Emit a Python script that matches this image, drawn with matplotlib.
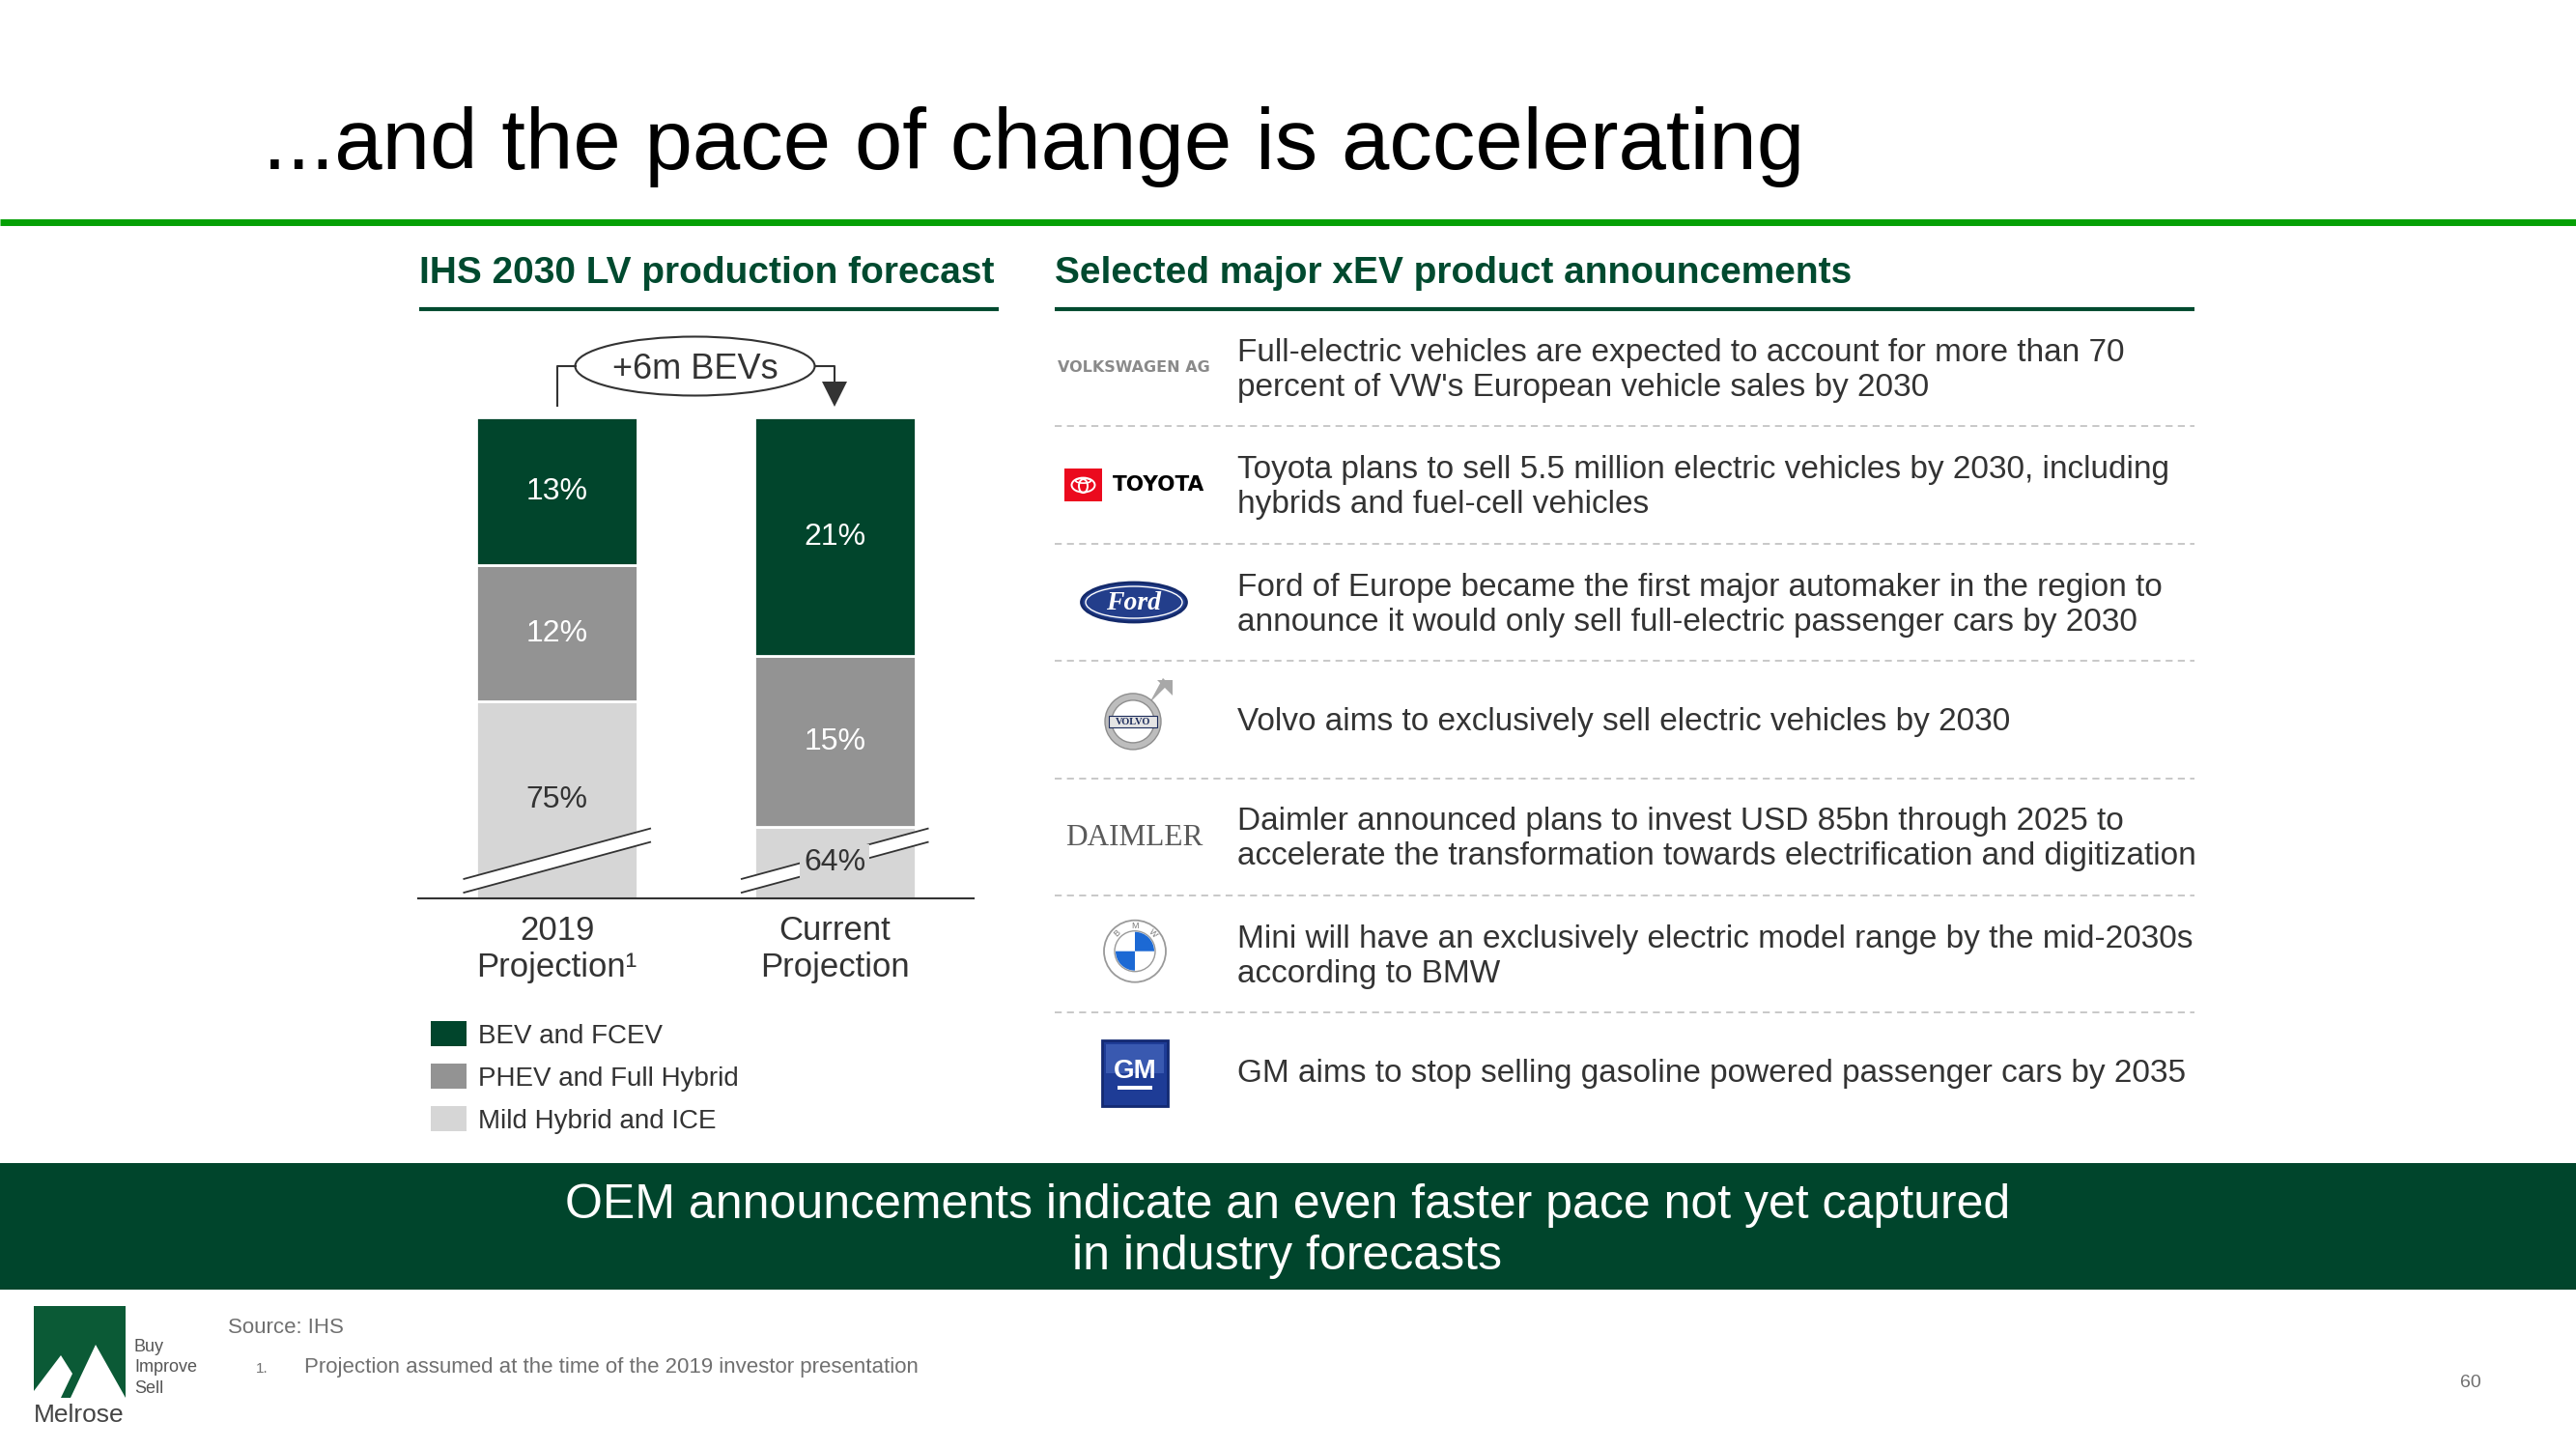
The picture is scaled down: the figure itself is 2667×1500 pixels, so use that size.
import numpy as np
import matplotlib
matplotlib.use("Agg")
import matplotlib.pyplot as plt
from matplotlib.patches import Rectangle, Ellipse, Circle, Polygon, Wedge

plt.rcParams['font.family'] = ['Liberation Sans', 'DejaVu Sans']

W, H = 2667, 1500
DARK_GREEN = '#00452C'
TEXT = '#333333'

# --- chart data ---
categories = ["2019\nProjection\u00b9", "Current\nProjection"]
series_names = ["BEV and FCEV", "PHEV and Full Hybrid", "Mild Hybrid and ICE"]
bev = [13, 21]
phev = [12, 15]
ice = [75, 64]
series_colors = ['#01452C', '#939393', '#D6D6D6']
label_colors = ['white', 'white', TEXT]
bev_delta = "+6m BEVs"

# broken axis: the visible stack is this many % tall, ICE gets truncated
BREAK_TOTAL = 42.3

oem_names = ["VOLKSWAGEN AG", "TOYOTA", "Ford", "VOLVO", "DAIMLER", "BMW", "GM"]
announcements = [
    "Full-electric vehicles are expected to account for more than 70\npercent of VW's European vehicle sales by 2030",
    "Toyota plans to sell 5.5 million electric vehicles by 2030, including\nhybrids and fuel-cell vehicles",
    "Ford of Europe became the first major automaker in the region to\nannounce it would only sell full-electric passenger cars by 2030",
    "Volvo aims to exclusively sell electric vehicles by 2030",
    "Daimler announced plans to invest USD 85bn through 2025 to\naccelerate the transformation towards electrification and digitization",
    "Mini will have an exclusively electric model range by the mid-2030s\naccording to BMW",
    "GM aims to stop selling gasoline powered passenger cars by 2035",
]

fig = plt.figure(figsize=(W / 100, H / 100), dpi=100)
fig.patch.set_facecolor('white')

# overlay axes in pixel coordinates (y down)
ov = fig.add_axes([0, 0, 1, 1])
ov.set_xlim(0, W)
ov.set_ylim(H, 0)
ov.axis('off')

# title + rule
ov.text(272, 175, "...and the pace of change is accelerating", fontsize=64,
        color='black', va='baseline', ha='left')
ov.plot([0, W], [230, 230], color='#05A005', lw=5, solid_capstyle='butt')

# section headers
ov.text(434, 293, "IHS 2030 LV production forecast", fontsize=28, fontweight='bold',
        color='#004A2F', va='baseline')
ov.plot([434, 1034], [320, 320], color='#004A2F', lw=3, solid_capstyle='butt')
ov.text(1092, 293, "Selected major xEV product announcements", fontsize=28,
        fontweight='bold', color='#004A2F', va='baseline')
ov.plot([1092, 2272], [320, 320], color='#004A2F', lw=3, solid_capstyle='butt')

# --- stacked bars ---
ax = fig.add_axes([433 / W, 1 - 930 / H, 575 / W, 498 / H])
ax.patch.set_alpha(0)
x = np.arange(len(categories))
bw = 0.58
ice_vis = [BREAK_TOTAL - b - p for b, p in zip(bev, phev)]
c_ice = ax.bar(x, ice_vis, bw, color=series_colors[2], edgecolor='white', linewidth=2)
c_phev = ax.bar(x, phev, bw, bottom=ice_vis, color=series_colors[1],
                edgecolor='white', linewidth=2)
c_bev = ax.bar(x, bev, bw, bottom=np.add(ice_vis, phev), color=series_colors[0],
               edgecolor='white', linewidth=2)
ax.set_xlim(-0.5, 1.5)
ax.set_ylim(0, BREAK_TOTAL)

# break marks across the truncated ICE segment
ext = 13 / 287.5
for xc in x:
    x0, x1 = xc - bw / 2 - ext, xc + bw / 2 + ext
    lo = (0.51, 4.95)
    up = (1.71, 6.14)
    ax.add_patch(Polygon([(x0, lo[0]), (x1, lo[1]), (x1, up[1]), (x0, up[0])],
                         closed=True, fc='white', ec='none', zorder=3, clip_on=False))
    ax.plot([x0, x1], lo, color=TEXT, lw=1.3, zorder=3, clip_on=False)
    ax.plot([x0, x1], up, color=TEXT, lw=1.3, zorder=3, clip_on=False)

for cont, vals, col, fc in zip([c_bev, c_phev, c_ice], [bev, phev, ice],
                               label_colors, series_colors):
    txts = ax.bar_label(cont, labels=[f"{v}%" for v in vals], label_type='center',
                        color=col, fontsize=23, zorder=5)
    if fc == series_colors[2]:
        for t in txts:
            t.set_bbox(dict(facecolor=fc, edgecolor='none', pad=3))

ax.axhline(0, color=TEXT, lw=1.5, zorder=4, clip_on=False)
for s in ax.spines.values():
    s.set_visible(False)
ax.set_yticks([])
ax.set_xticks(x, categories)
ax.tick_params(axis='x', length=0, pad=12, labelsize=25, labelcolor=TEXT)
for lbl in ax.get_xticklabels():
    lbl.set_linespacing(1.22)

# +6m BEVs callout
ov.add_patch(Ellipse((719.5, 379), 248, 61, fill=False, ec=TEXT, lw=1.5))
ov.text(719.5, 392, bev_delta, fontsize=26, color=TEXT, ha='center', va='baseline')
ov.plot([577, 577, 595.5], [420, 379, 379], color=TEXT, lw=1.5)
ov.plot([843.5, 864, 864], [379, 379, 396], color=TEXT, lw=1.5)
ov.add_patch(Polygon([(851, 395), (877, 395), (864, 421)], closed=True, fc=TEXT, ec='none'))

# legend
for i, (name, col) in enumerate(zip(series_names, series_colors)):
    yc = 1070 + i * 44
    ov.add_patch(Rectangle((446, yc - 13), 37, 26, fc=col, ec='none'))
    ov.text(495, yc + 10, name, fontsize=20, color=TEXT, va='baseline')

# --- announcements table ---
row_top, row_h = 320, 121.4
for i, txt in enumerate(announcements):
    yc = row_top + (i + 0.5) * row_h
    lines = txt.split("\n")
    for j, line in enumerate(lines):
        yb = yc + 11 + (j - (len(lines) - 1) / 2) * 36
        ov.text(1281, yb, line, fontsize=24, color=TEXT, va='baseline')
    if i > 0:
        ys = row_top + i * row_h
        ov.plot([1092, 2272], [ys, ys], ls=(0, (4, 3)), color='#C4C4C4', lw=1.3)

rc = [row_top + (i + 0.5) * row_h for i in range(len(oem_names))]
lx = 1174

# VW
ov.text(lx, rc[0], oem_names[0], fontsize=11.5, fontweight='bold', color='#8A8A8A',
        family='DejaVu Sans', ha='center', va='center')

# Toyota
ov.add_patch(Rectangle((1102, rc[1] - 17), 39, 34, fc='#EB0A1E', ec='none'))
ov.add_patch(Ellipse((1121.5, rc[1]), 24, 15, fill=False, ec='white', lw=1.4))
ov.add_patch(Ellipse((1121.5, rc[1] + 1), 9, 14, fill=False, ec='white', lw=1.4))
ov.add_patch(Ellipse((1121.5, rc[1] - 4.5), 16, 5, fill=False, ec='white', lw=1.2))
ov.text(1200, rc[1], oem_names[1], fontsize=15.5, fontweight='bold', color='black',
        family='DejaVu Sans', ha='center', va='center')

# Ford
ov.add_patch(Ellipse((lx, rc[2]), 109, 41, fc='#233E8B', ec='#142A6B', lw=2))
ov.add_patch(Ellipse((lx, rc[2]), 100, 33, fill=False, ec='white', lw=1))
ov.text(lx, rc[2] + 1, oem_names[2], fontsize=20, color='white', family='Liberation Serif',
        fontstyle='italic', fontweight='bold', ha='center', va='center')

# Volvo
vc = (1173, rc[3] + 2)
ov.add_patch(Polygon([(1190, vc[1] - 19), (1196, vc[1] - 25), (1210, vc[1] - 39),
                      (1204, vc[1] - 45)], closed=True, fc='#A8A8A8', ec='none'))
ov.add_patch(Polygon([(1198, vc[1] - 43), (1214, vc[1] - 43), (1214, vc[1] - 27)],
                     closed=True, fc='#A8A8A8', ec='none'))
ov.add_patch(Wedge(vc, 29, 0, 360, width=7, fc='#BDBDBD', ec='#8E8E8E', lw=1))
ov.add_patch(Rectangle((1148, vc[1] - 6), 50, 12, fc='#E4E4E4', ec='#1B2B5B', lw=0.8))
ov.text(vc[0], vc[1] + 0.5, oem_names[3], fontsize=7.5, fontweight='bold', color='#1B2B5B',
        family='Liberation Serif', ha='center', va='center')

# Daimler
ov.text(lx, rc[4] + 1, oem_names[4], fontsize=22.5, color='#5A5A5A', family='Liberation Serif',
        ha='center', va='center')

# BMW
bc = (1175, rc[5] - 3)
ov.add_patch(Circle(bc, 32, fc='white', ec='#9A9A9A', lw=1.3))
ov.add_patch(Circle(bc, 21, fc='white', ec='#9A9A9A', lw=1.0))
ov.add_patch(Wedge(bc, 20, 90, 180, fc='#1C69D4', ec='none'))
ov.add_patch(Wedge(bc, 20, 270, 360, fc='#1C69D4', ec='none'))
for ch, ang in zip(oem_names[5], [135, 90, 45]):
    r = np.deg2rad(ang)
    ov.text(bc[0] + 26.5 * np.cos(r), bc[1] - 26.5 * np.sin(r), ch, fontsize=6.5,
            color='#7A7A7A', ha='center', va='center', rotation=ang - 90)

# GM
ov.add_patch(Rectangle((1141, rc[6] - 32), 68, 68, fc='#1E3C96', ec='#132A72', lw=2))
ov.add_patch(Rectangle((1145, rc[6] - 28), 60, 30, fc='#5B7ED0', alpha=0.45, ec='none'))
ov.text(1175, rc[6], oem_names[6], fontsize=20, fontweight='bold', color='white',
        ha='center', va='center')
ov.add_patch(Rectangle((1157, rc[6] + 15), 36, 4, fc='white', ec='none'))

# --- banner ---
ov.add_patch(Rectangle((0, 1204), W, 131, fc=DARK_GREEN, ec='none'))
ov.text(1333, 1261, "OEM announcements indicate an even faster pace not yet captured",
        fontsize=36, color='white', ha='center', va='baseline')
ov.text(1333, 1314, "in industry forecasts", fontsize=36, color='white',
        ha='center', va='baseline')

# --- footer ---
ov.add_patch(Rectangle((35, 1352), 95, 95, fc='#0B5A36', ec='none'))
ov.add_patch(Polygon([(73, 1447), (99, 1392), (130, 1447)], closed=True, fc='white', ec='none'))
ov.add_patch(Polygon([(35, 1447), (35, 1440), (63, 1403), (75, 1422), (63, 1447)],
                     closed=True, fc='white', ec='none'))
ov.text(35, 1472, "Melrose", fontsize=19, color='#444444', va='baseline')
for k, w in enumerate(["Buy", "Improve", "Sell"]):
    ov.text(139, 1399 + k * 21.5, w, fontsize=13, color='#555555', va='baseline')

ov.text(236, 1380, "Source: IHS", fontsize=16, color='#707070', va='baseline')
ov.text(265, 1421, "1.", fontsize=11, color='#707070', va='baseline')
ov.text(315, 1421, "Projection assumed at the time of the 2019 investor presentation",
        fontsize=16, color='#707070', va='baseline')
ov.text(2558, 1436, "60", fontsize=14, color='#707070', va='baseline', ha='center')

fig.savefig("out.png", dpi=100, facecolor='white')
